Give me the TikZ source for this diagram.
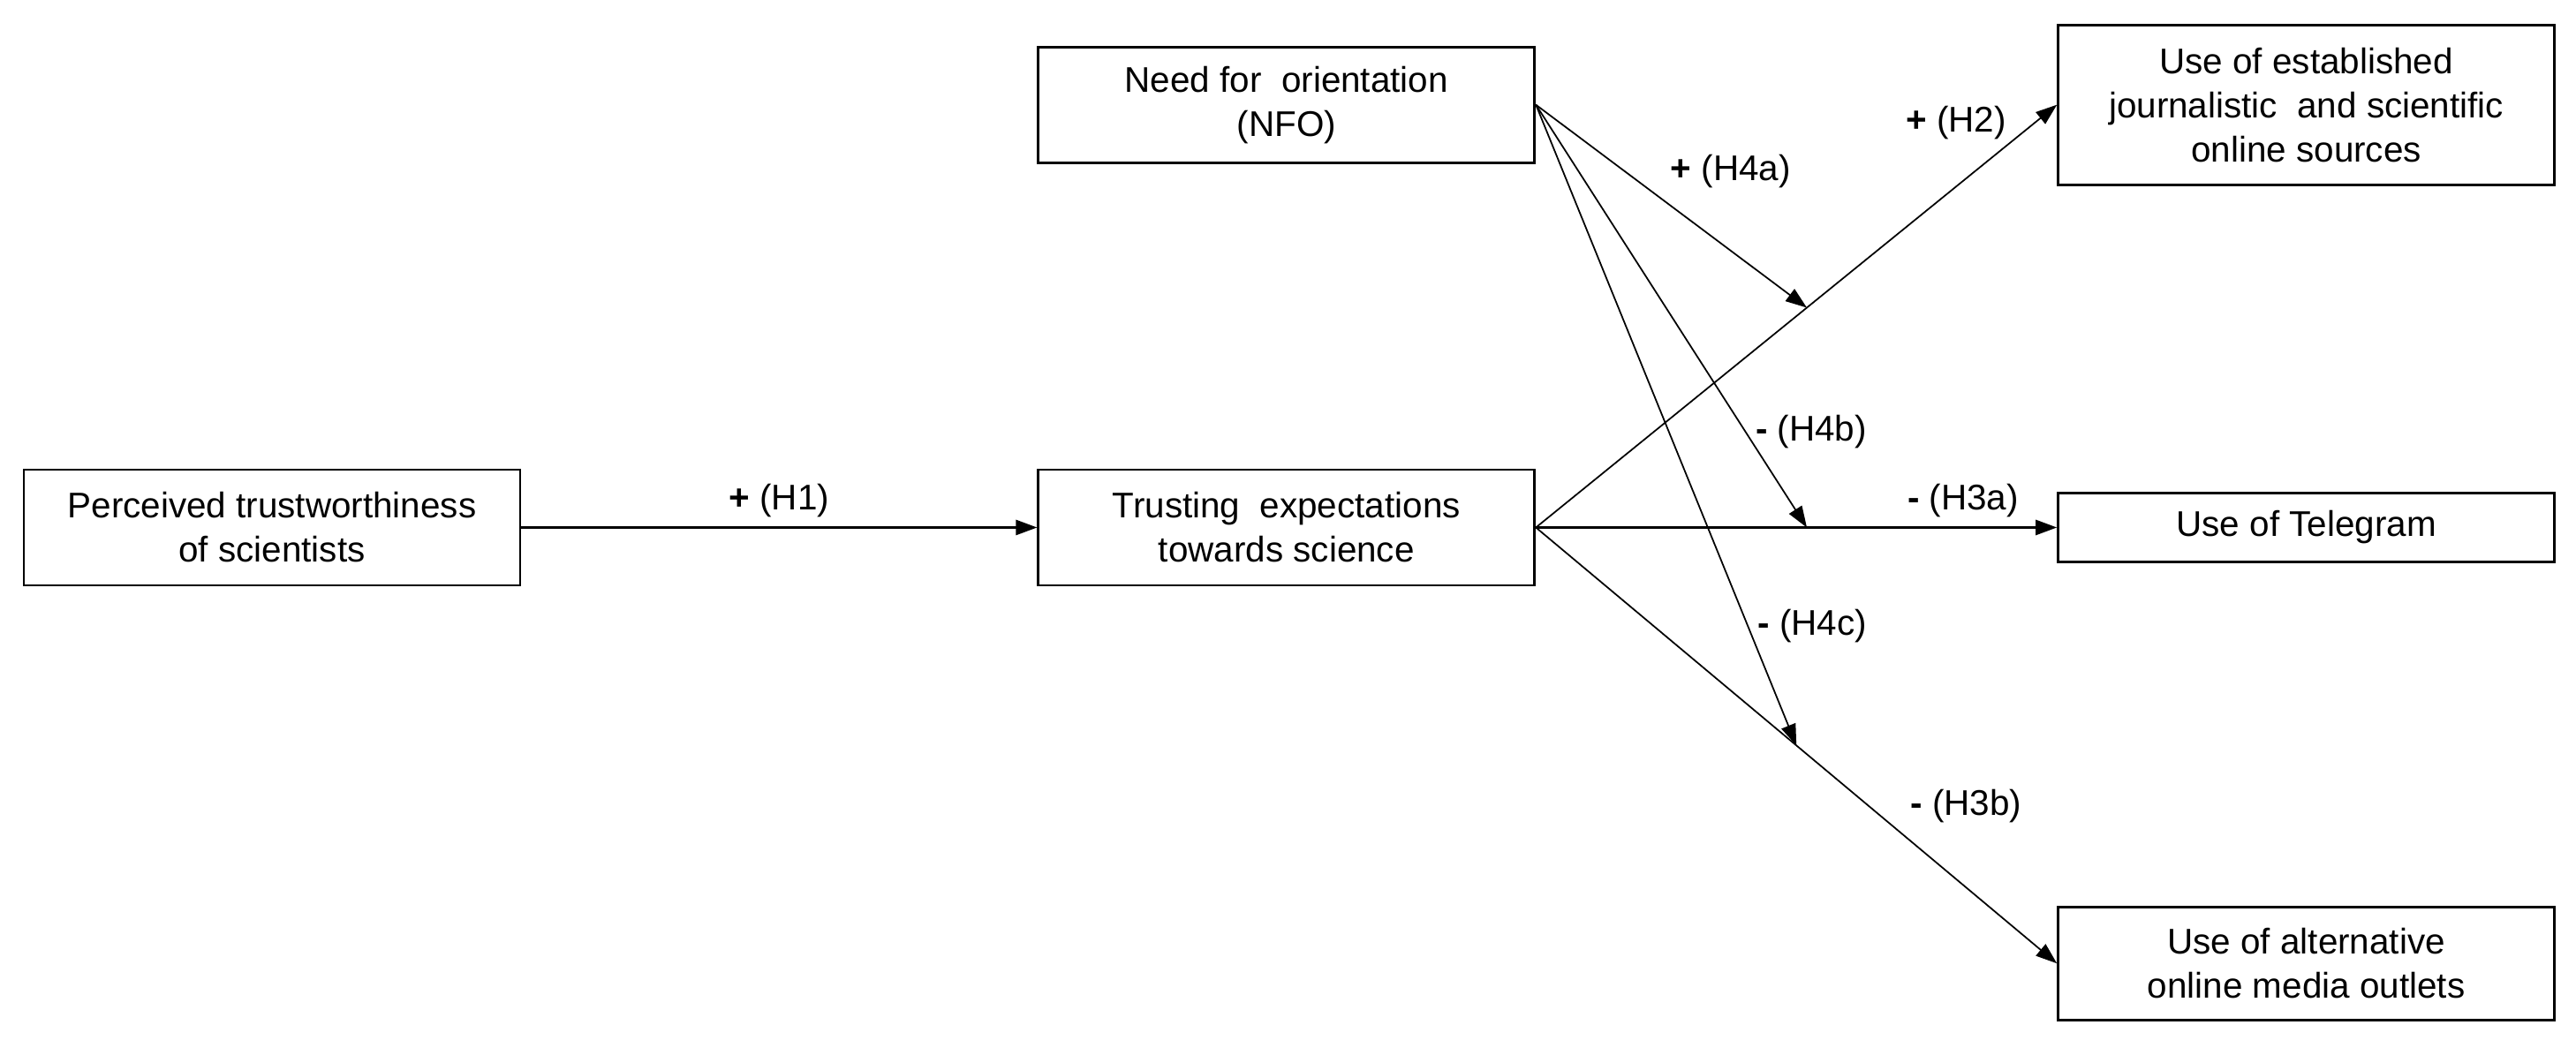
\documentclass[tikz,border=0pt]{standalone}
\usepackage{fontspec}
\setmainfont{Liberation Sans}
\usetikzlibrary{arrows.meta, positioning, calc}

\begin{document}
\begin{tikzpicture}[
    >={Triangle[length=2.4mm, width=1.7mm]},
    every node/.style={font=\fontsize{11.5}{14.2}\selectfont},
    construct/.style={
        rectangle, draw=black, line width=0.8pt,
        minimum width=5.62cm, minimum height=1.31cm,
        align=center, inner sep=3pt
    },
    link/.style={->, line width=0.5pt},
    mainlink/.style={->, line width=0.75pt},
    edgelbl/.style={inner sep=3pt},
]
\useasboundingbox (0,0) rectangle (29.17,11.78);

% ── Constructs ──
\node[construct] (perc) at (3.08,5.805) {Perceived trustworthiness\\of scientists};
\node[construct, right=5.84cm of perc] (trust) {Trusting~ expectations\\towards science};
\node[construct, above=3.45cm of trust] (nfo) {Need for~ orientation\\(NFO)};

\node[construct, minimum height=1.81cm, right=5.9cm of nfo] (estab) {Use of established\\journalistic~ and scientific\\online sources};
\node[construct, minimum height=0.78cm, right=5.9cm of trust] (tele) {Use of Telegram};
\node[construct, minimum height=1.28cm, below=3.88cm of tele] (alt) {Use of alternative\\online media outlets};

% ── Direct effects ──
\draw[mainlink] (perc) -- node[edgelbl, above] {\textbf{+} (H1)} (trust);
\draw[link] (trust.east) -- node[edgelbl, pos=0.91, anchor=south east, inner sep=1pt] {\textbf{+} (H2)} (estab.west);
\draw[mainlink] (trust.east) -- node[edgelbl, pos=0.82, above] {\textbf{-} (H3a)} (tele.west);
\draw[link] (trust.east) -- node[edgelbl, pos=0.7, above right] {\textbf{-} (H3b)} (alt.west);

% ── Moderation by NFO ──
\coordinate (onH2) at ($(trust.east)!0.52!(estab.west)$);
\coordinate (onH3a) at ($(trust.east)!0.52!(tele.west)$);
\coordinate (onH3b) at ($(trust.east)!0.50!(alt.west)$);

\draw[link] (nfo.east) -- node[edgelbl, pos=0.46, above right] {\textbf{+} (H4a)} (onH2);
\draw[link] (nfo.east) -- node[edgelbl, pos=0.774, right] {\textbf{-} (H4b)} (onH3a);
\draw[link] (nfo.east) -- node[edgelbl, pos=0.813, right] {\textbf{-} (H4c)} (onH3b);

\end{tikzpicture}
\end{document}
